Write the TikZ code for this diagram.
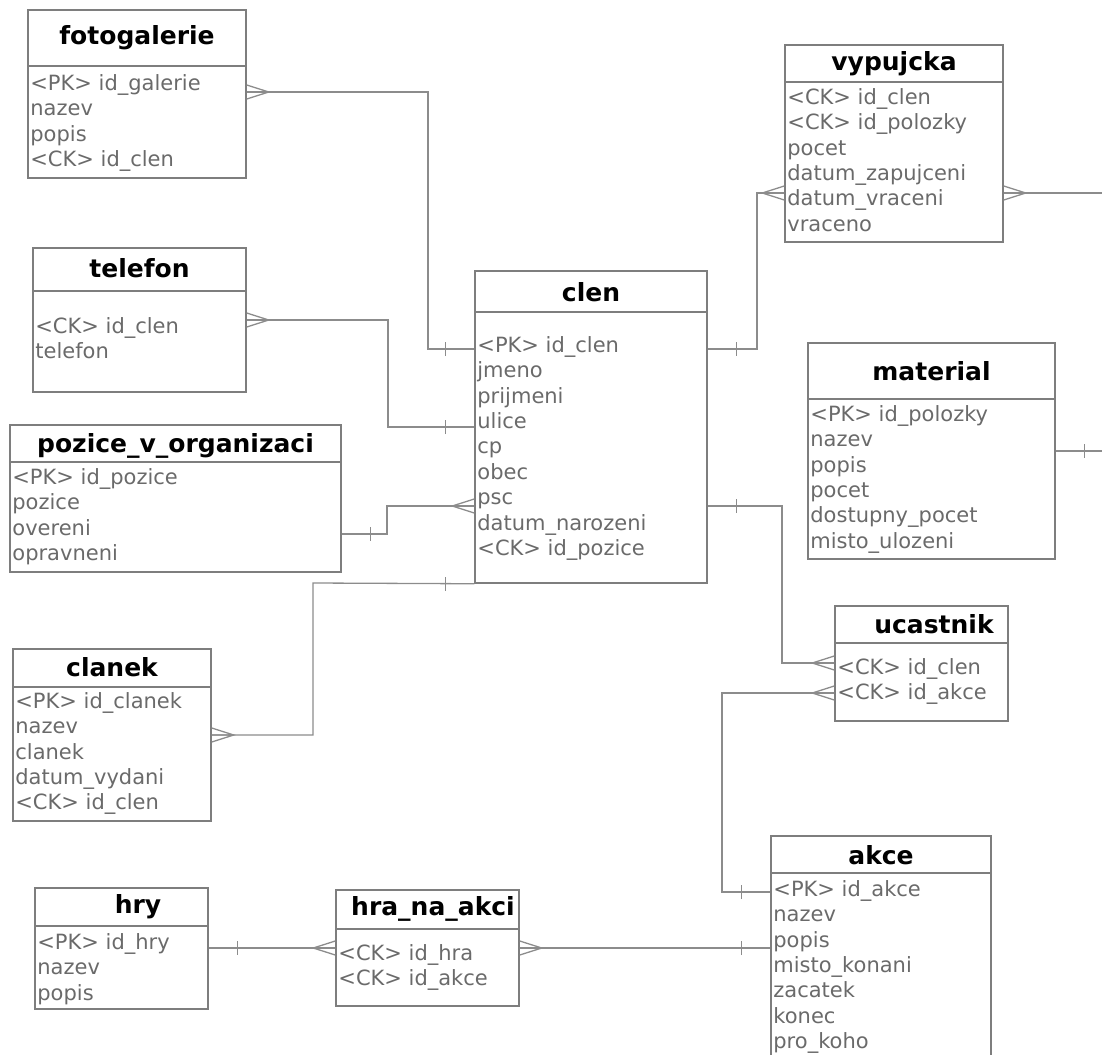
\documentclass[tikz,border=0pt]{standalone}
\usepackage{fontspec}
\setmainfont{DejaVu Sans}
\usetikzlibrary{fit}

\definecolor{erbox}{HTML}{7E7E7E}
\definecolor{erline}{HTML}{8C8C8C}
\definecolor{ertext}{HTML}{6A6A6A}

\begin{document}
\begin{tikzpicture}[
    x=0.5pt, y=-0.5pt,
    tbox/.style={draw=erbox, line width=0.75pt, inner sep=0pt},
    ttitle/.style={
        font=\fontsize{12.5}{14}\selectfont\bfseries, text=black,
        inner sep=0pt, text height=9.5pt, text depth=3pt,
    },
    trow/.style={
        font=\fontsize{10.5}{12}\selectfont, text=ertext, anchor=west,
        inner sep=0pt, text height=7.9pt, text depth=2.6pt,
    },
    link/.style={draw=erline, line width=0.65pt},
    crowfoot/.pic={\draw[link] (0,-7) -- (22,0) -- (0,7) (0,0) -- (22,0);},
    onetick/.pic={\draw[link] (29,-7) -- (29,7);},
]
\useasboundingbox (0,0) rectangle (1102,1054);
\clip (0,0) rectangle (1102,1054);

% --- fotogalerie -------------------------------------------
\node[tbox, fit={(28,10)(246,178)}] (foto) {};
\draw[tbox] (foto.west |- 0,66) -- (foto.east |- 0,66);
\node[ttitle] (foto-t) at (137,38) {fotogalerie};
\foreach \r [count=\i] in {<PK> id\_galerie, nazev, popis, <CK> id\_clen}
    \node[trow] (foto-\i) at (30,{85+25.4*(\i-1)}) {\r};

% --- vypujcka ----------------------------------------------
\node[tbox, fit={(785,45)(1003,242)}] (vyp) {};
\draw[tbox] (vyp.west |- 0,82) -- (vyp.east |- 0,82);
\node[ttitle] (vyp-t) at (894,64) {vypujcka};
\foreach \r [count=\i] in {<CK> id\_clen, <CK> id\_polozky, pocet,
        datum\_zapujceni, datum\_vraceni, vraceno}
    \node[trow] (vyp-\i) at (787,{99+25.4*(\i-1)}) {\r};

% --- telefon -----------------------------------------------
\node[tbox, fit={(33,248)(246,392)}] (tel) {};
\draw[tbox] (tel.west |- 0,291) -- (tel.east |- 0,291);
\node[ttitle] (tel-t) at (139.5,271) {telefon};
\foreach \r [count=\i] in {<CK> id\_clen, telefon}
    \node[trow] (tel-\i) at (35,{328+25.4*(\i-1)}) {\r};

% --- clen --------------------------------------------------
\node[tbox, fit={(475,271)(707,583)}] (clen) {};
\draw[tbox] (clen.west |- 0,312) -- (clen.east |- 0,312);
\node[ttitle] (clen-t) at (591,295) {clen};
\foreach \r [count=\i] in {<PK> id\_clen, jmeno, prijmeni, ulice, cp, obec,
        psc, datum\_narozeni, <CK> id\_pozice}
    \node[trow] (clen-\i) at (477,{347+25.4*(\i-1)}) {\r};

% --- material ----------------------------------------------
\node[tbox, fit={(808,343)(1055,559)}] (mat) {};
\draw[tbox] (mat.west |- 0,399) -- (mat.east |- 0,399);
\node[ttitle] (mat-t) at (931.5,374) {material};
\foreach \r [count=\i] in {<PK> id\_polozky, nazev, popis, pocet,
        dostupny\_pocet, misto\_ulozeni}
    \node[trow] (mat-\i) at (810,{416+25.4*(\i-1)}) {\r};

% --- pozice_v_organizaci -----------------------------------
\node[tbox, fit={(10,425)(341,572)}] (poz) {};
\draw[tbox] (poz.west |- 0,462) -- (poz.east |- 0,462);
\node[ttitle] (poz-t) at (175.5,446) {pozice\_v\_organizaci};
\foreach \r [count=\i] in {<PK> id\_pozice, pozice, overeni, opravneni}
    \node[trow] (poz-\i) at (12,{479+25.4*(\i-1)}) {\r};

% --- clanek ------------------------------------------------
\node[tbox, fit={(13,649)(211,821)}] (clk) {};
\draw[tbox] (clk.west |- 0,687) -- (clk.east |- 0,687);
\node[ttitle] (clk-t) at (112,670) {clanek};
\foreach \r [count=\i] in {<PK> id\_clanek, nazev, clanek, datum\_vydani,
        <CK> id\_clen}
    \node[trow] (clk-\i) at (15,{703+25.4*(\i-1)}) {\r};

% --- ucastnik ----------------------------------------------
\node[tbox, fit={(835,606)(1008,721)}] (uca) {};
\draw[tbox] (uca.west |- 0,643) -- (uca.east |- 0,643);
\node[ttitle] (uca-t) at (934,627) {ucastnik};
\foreach \r [count=\i] in {<CK> id\_clen, <CK> id\_akce}
    \node[trow] (uca-\i) at (837,{669+25.4*(\i-1)}) {\r};

% --- akce --------------------------------------------------
\node[tbox, fit={(771,836)(991,1070)}] (akce) {};
\draw[tbox] (akce.west |- 0,873) -- (akce.east |- 0,873);
\node[ttitle] (akce-t) at (881,858) {akce};
\foreach \r [count=\i] in {<PK> id\_akce, nazev, popis, misto\_konani,
        zacatek, konec, pro\_koho}
    \node[trow] (akce-\i) at (773,{891+25.4*(\i-1)}) {\r};

% --- hry ---------------------------------------------------
\node[tbox, fit={(35,888)(208,1009)}] (hry) {};
\draw[tbox] (hry.west |- 0,926) -- (hry.east |- 0,926);
\node[ttitle] (hry-t) at (138,907) {hry};
\foreach \r [count=\i] in {<PK> id\_hry, nazev, popis}
    \node[trow] (hry-\i) at (37,{944+25.4*(\i-1)}) {\r};

% --- hra_na_akci -------------------------------------------
\node[tbox, fit={(336,890)(519,1006)}] (hna) {};
\draw[tbox] (hna.west |- 0,929) -- (hna.east |- 0,929);
\node[ttitle] (hna-t) at (433,909) {hra\_na\_akci};
\foreach \r [count=\i] in {<CK> id\_hra, <CK> id\_akce}
    \node[trow] (hna-\i) at (338,{955+25.4*(\i-1)}) {\r};

% --- free ends at the right border -------------------------
\coordinate (vyp-out) at (1102,193);
\coordinate (mat-out) at (1102,451);

% --- Connectors --------------------------------------------
\draw[link] (foto.east |- 0,92) -| (428,349) -- (clen.west |- 0,349);
\pic at (foto.east |- 0,92) {crowfoot};
\pic[rotate=180] at (clen.west |- 0,349) {onetick};

\draw[link] (tel.east |- 0,320) -| (388,427) -- (clen.west |- 0,427);
\pic at (tel.east |- 0,320) {crowfoot};
\pic[rotate=180] at (clen.west |- 0,427) {onetick};

\draw[link] (poz.east |- 0,534) -| (387,506) -- (clen.west |- 0,506);
\pic at (poz.east |- 0,534) {onetick};
\pic[rotate=180] at (clen.west |- 0,506) {crowfoot};

\draw[link] (clk.east |- 0,735) -| (313,583) -- (clen.south west);
\pic at (clk.east |- 0,735) {crowfoot};
\pic[rotate=180] at (clen.south west) {onetick};

\draw[link] (clen.east |- 0,349) -| (757,193) -- (vyp.west |- 0,193);
\pic at (clen.east |- 0,349) {onetick};
\pic[rotate=180] at (vyp.west |- 0,193) {crowfoot};

\draw[link] (vyp.east |- 0,193) -- (vyp-out);
\pic at (vyp.east |- 0,193) {crowfoot};

\draw[link] (mat.east |- 0,451) -- (mat-out);
\pic at (mat.east |- 0,451) {onetick};

\draw[link] (clen.east |- 0,506) -| (782,663) -- (uca.west |- 0,663);
\pic at (clen.east |- 0,506) {onetick};
\pic[rotate=180] at (uca.west |- 0,663) {crowfoot};

\draw[link] (uca.west |- 0,693) -| (722,892) -- (akce.west |- 0,892);
\pic[rotate=180] at (uca.west |- 0,693) {crowfoot};
\pic[rotate=180] at (akce.west |- 0,892) {onetick};

\draw[link] (hry.east |- 0,948) -- (hna.west |- 0,948);
\pic at (hry.east |- 0,948) {onetick};
\pic[rotate=180] at (hna.west |- 0,948) {crowfoot};

\draw[link] (hna.east |- 0,948) -- (akce.west |- 0,948);
\pic at (hna.east |- 0,948) {crowfoot};
\pic[rotate=180] at (akce.west |- 0,948) {onetick};

\end{tikzpicture}
\end{document}
